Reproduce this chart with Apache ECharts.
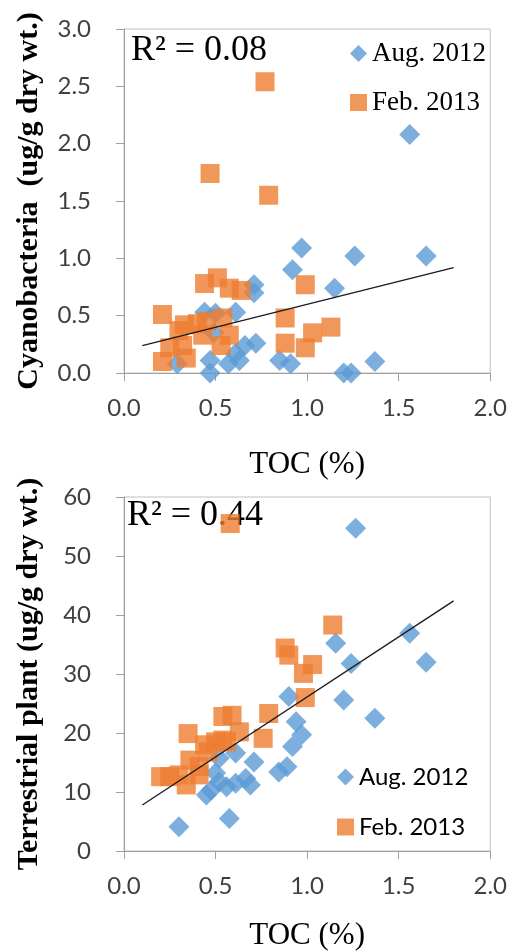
<!DOCTYPE html>
<html><head><meta charset="utf-8">
<script src="https://cdn.jsdelivr.net/npm/echarts@6/dist/echarts.min.js"></script>
<style>html,body{margin:0;padding:0;background:#fff}#c{width:510px;height:952px}</style>
</head><body><div id="c"></div>
<script>
const seriesNames = ['Aug. 2012', 'Feb. 2013'];
// Top chart: Cyanobacteria vs TOC
const cyanoAug = [[0.29,0.08],[0.44,0.53],[0.47,0.11],[0.47,0.0],[0.49,0.35],[0.50,0.52],[0.57,0.08],[0.61,0.53],[0.61,0.17],[0.63,0.11],[0.66,0.24],[0.71,0.77],[0.71,0.70],[0.72,0.26],[0.85,0.11],[0.91,0.08],[0.92,0.90],[0.97,1.09],[1.15,0.74],[1.20,0.0],[1.24,0.0],[1.26,1.02],[1.37,0.10],[1.56,2.08],[1.65,1.02]];
const cyanoFeb = [[0.21,0.51],[0.21,0.10],[0.25,0.22],[0.30,0.37],[0.32,0.24],[0.34,0.13],[0.33,0.42],[0.40,0.43],[0.43,0.33],[0.45,0.45],[0.44,0.78],[0.47,1.74],[0.51,0.83],[0.53,0.24],[0.54,0.48],[0.575,0.33],[0.575,0.74],[0.64,0.72],[0.77,2.54],[0.79,1.55],[0.88,0.48],[0.88,0.26],[0.99,0.77],[0.99,0.22],[1.03,0.35],[1.13,0.40]];
// Bottom chart: Terrestrial plant vs TOC
const plantAug = [[0.30,4.1],[0.45,9.5],[0.475,10.3],[0.50,13.2],[0.52,11.7],[0.52,15.7],[0.56,10.9],[0.575,5.5],[0.61,11.5],[0.61,16.6],[0.665,12.3],[0.69,11.2],[0.71,15.1],[0.845,13.4],[0.89,14.3],[0.90,26.2],[0.92,17.7],[0.94,21.9],[0.97,19.7],[1.156,35.2],[1.20,25.6],[1.24,31.8],[1.265,54.7],[1.37,22.5],[1.56,36.9],[1.65,32.0]];
const plantFeb = [[0.20,12.6],[0.25,12.6],[0.30,12.9],[0.34,11.2],[0.35,19.9],[0.36,15.4],[0.41,14.3],[0.41,12.9],[0.44,18.0],[0.46,16.8],[0.50,18.5],[0.54,18.8],[0.54,22.8],[0.56,18.5],[0.58,55.5],[0.59,23.0],[0.63,20.2],[0.76,19.1],[0.79,23.3],[0.88,34.4],[0.90,33.2],[0.98,30.1],[0.99,26.0],[1.03,31.6],[1.14,38.3]];
// Linear trend lines (endpoints in data units)
const trendX = [0.1, 1.8];
const cyanoTrend = [0.238, 0.918];
const plantTrend = [7.8, 42.4];
const r2Labels = ['R\u00b2 = 0.08', 'R\u00b2 = 0.44'];
const yTitles = ['Cyanobacteria  (ug/g dry wt.)', 'Terrestrial plant (ug/g dry wt.)'];
const xTitle = 'TOC (%)';

const BLUE = '#5B9BD5', ORANGE = '#ED7D31';
const serif = 'Liberation Serif';
const sans = 'Lato';
const axisGray = '#a0a0a0';

function xAxisCfg(idx, gap) {
  return {
    type: 'value', gridIndex: idx, min: 0, max: 2, interval: 0.5,
    name: xTitle, nameLocation: 'middle', nameGap: gap,
    nameTextStyle: { fontFamily: serif, fontSize: 31, color: '#000' },
    axisLine: { show: true, onZero: false, lineStyle: { color: axisGray, width: 1 } },
    axisTick: { show: true, length: 8, lineStyle: { color: axisGray } },
    splitLine: { show: false },
    axisLabel: { margin: 23, fontFamily: sans, fontSize: 24, color: '#404040', formatter: v => v.toFixed(1) }
  };
}
function yAxisCfg(idx, max, interval, dec) {
  return {
    type: 'value', gridIndex: idx, min: 0, max: max, interval: interval,
    name: yTitles[idx], nameLocation: 'middle', nameGap: 80,
    nameTextStyle: { fontFamily: serif, fontSize: 30, fontWeight: 'bold', color: '#000' },
    axisLine: { show: true, onZero: false, lineStyle: { color: axisGray, width: 1 } },
    axisTick: { show: true, length: 8, lineStyle: { color: axisGray } },
    splitLine: { show: false },
    axisLabel: { margin: 33, fontFamily: sans, fontSize: 24, color: '#404040', formatter: v => v.toFixed(dec) }
  };
}
function legendCfg(name, icon, left, top, font, size) {
  return {
    data: [{ name: name, icon: icon }], orient: 'vertical', left: left, top: top, padding: 0,
    itemWidth: 17, itemHeight: 17, selectedMode: false,
    textStyle: { fontFamily: font, fontSize: size, color: '#000' }
  };
}
const trendData = ys => trendX.map((x, i) => [x, ys[i]]);

const chart = echarts.init(document.getElementById('c'), null, { renderer: 'canvas' });
chart.setOption({
  animation: false,
  backgroundColor: '#fff',
  title: [
    { text: r2Labels[0], left: 131, top: 33, padding: 0, z: 6, textStyle: { fontFamily: serif, fontSize: 36, fontWeight: 'normal', color: '#000' } },
    { text: r2Labels[1], left: 127, top: 498, padding: 0, z: 1, textStyle: { fontFamily: serif, fontSize: 36, fontWeight: 'normal', color: '#000' } }
  ],
  legend: [
    legendCfg(seriesNames[0], 'diamond', 350, 40, serif, 27),
    legendCfg(seriesNames[1], 'rect', 350, 89, serif, 27),
    legendCfg(seriesNames[0], 'diamond', 337, 765, sans, 24),
    legendCfg(seriesNames[1], 'rect', 337, 815, sans, 24)
  ],
  grid: [
    { left: 124, top: 29, width: 369, height: 344, show: true, borderColor: '#c0c0c0', borderWidth: 1, backgroundColor: 'transparent' },
    { left: 124, top: 497, width: 369, height: 354, show: true, borderColor: '#c0c0c0', borderWidth: 1, backgroundColor: 'transparent' }
  ],
  xAxis: [xAxisCfg(0, 76), xAxisCfg(1, 69)],
  yAxis: [yAxisCfg(0, 3, 0.5, 1), yAxisCfg(1, 60, 10, 0)],
  series: [
    { name: seriesNames[0], type: 'scatter', xAxisIndex: 0, yAxisIndex: 0, symbol: 'diamond', symbolSize: 21, itemStyle: { color: BLUE }, data: cyanoAug },
    { name: seriesNames[1], type: 'scatter', xAxisIndex: 0, yAxisIndex: 0, symbol: 'rect', symbolSize: 19, itemStyle: { color: ORANGE }, data: cyanoFeb },
    { type: 'line', xAxisIndex: 0, yAxisIndex: 0, symbol: 'none', silent: true, lineStyle: { color: '#1a1a1a', width: 1.3 }, data: trendData(cyanoTrend), z: 3 },
    { name: seriesNames[0], type: 'scatter', xAxisIndex: 1, yAxisIndex: 1, symbol: 'diamond', symbolSize: 21, itemStyle: { color: BLUE }, data: plantAug },
    { name: seriesNames[1], type: 'scatter', xAxisIndex: 1, yAxisIndex: 1, symbol: 'rect', symbolSize: 19, itemStyle: { color: ORANGE }, data: plantFeb },
    { type: 'line', xAxisIndex: 1, yAxisIndex: 1, symbol: 'none', silent: true, lineStyle: { color: '#1a1a1a', width: 1.3 }, data: trendData(plantTrend), z: 3 }
  ]
});
</script></body></html>
